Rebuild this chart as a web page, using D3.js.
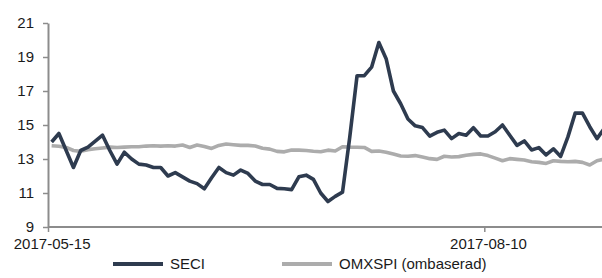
<!DOCTYPE html>
<html>
<head>
<meta charset="utf-8">
<script src="https://cdn.jsdelivr.net/npm/d3@7"></script>
<style>
  html, body { margin: 0; padding: 0; background: #fff; }
  svg { display: block; font-family: "Liberation Sans", Arial, sans-serif; }
</style>
</head>
<body>
<div id="chart"></div>
<script>
// Trading days (Swedish calendar), May 15 -> Sep 1 2017
const dates = [
  '2017-05-15','2017-05-16','2017-05-17','2017-05-18','2017-05-19','2017-05-22','2017-05-23','2017-05-24','2017-05-26','2017-05-29','2017-05-30','2017-05-31',
  '2017-06-01','2017-06-02','2017-06-05','2017-06-07','2017-06-08','2017-06-09','2017-06-12','2017-06-13','2017-06-14','2017-06-15','2017-06-16','2017-06-19','2017-06-20','2017-06-21','2017-06-22','2017-06-26','2017-06-27','2017-06-28','2017-06-29','2017-06-30',
  '2017-07-03','2017-07-04','2017-07-05','2017-07-06','2017-07-07','2017-07-10','2017-07-11','2017-07-12','2017-07-13','2017-07-14','2017-07-17','2017-07-18','2017-07-19','2017-07-20','2017-07-21','2017-07-24','2017-07-25','2017-07-26','2017-07-27','2017-07-28','2017-07-31',
  '2017-08-01','2017-08-02','2017-08-03','2017-08-04','2017-08-07','2017-08-08','2017-08-09','2017-08-10','2017-08-11','2017-08-14','2017-08-15','2017-08-16','2017-08-17','2017-08-18','2017-08-21','2017-08-22','2017-08-23','2017-08-24','2017-08-25','2017-08-28','2017-08-29','2017-08-30','2017-08-31',
  '2017-09-01'
];

const seci = [
  14.0, 14.5, 13.5, 12.5, 13.5, 13.7, 14.05, 14.4, 13.5, 12.7,
  13.4, 13.0, 12.7, 12.65, 12.5, 12.5, 12.0, 12.2, 11.95, 11.7,
  11.55, 11.25, 11.9, 12.5, 12.2, 12.05, 12.35, 12.15, 11.7, 11.5,
  11.5, 11.27, 11.25, 11.2, 11.95, 12.05, 11.8, 11.0, 10.5, 10.8,
  11.05, 14.3, 17.9, 17.9, 18.4, 19.85, 18.9, 17.0, 16.25, 15.35,
  14.95, 14.85, 14.35, 14.57, 14.7, 14.2, 14.5, 14.4, 14.84, 14.35,
  14.35, 14.6, 15.0, 14.4, 13.8, 14.06, 13.53, 13.67, 13.24, 13.6,
  13.15, 14.3, 15.7, 15.7, 14.9, 14.2, 14.8
];

const omxspi = [
  13.78, 13.75, 13.68, 13.5, 13.45, 13.55, 13.6, 13.65, 13.7, 13.68,
  13.7, 13.72, 13.72, 13.76, 13.78, 13.76, 13.78, 13.76, 13.82, 13.68,
  13.82, 13.74, 13.62, 13.8, 13.88, 13.84, 13.8, 13.8, 13.76, 13.63,
  13.58, 13.45, 13.42, 13.53, 13.52, 13.5, 13.46, 13.43, 13.52, 13.47,
  13.72, 13.7, 13.69, 13.68, 13.45, 13.47, 13.4, 13.3, 13.18, 13.16,
  13.2, 13.12, 13.02, 12.98, 13.16, 13.12, 13.14, 13.22, 13.27, 13.3,
  13.2, 13.05, 12.9, 13.02, 12.98, 12.94, 12.84, 12.8, 12.74, 12.9,
  12.86, 12.84, 12.86, 12.8, 12.65, 12.9, 13.0
];

const yTicks = [9, 11, 13, 15, 17, 19, 21];
const xTickLabels = ['2017-05-15', '2017-08-10'];

const seriesNames = ['SECI', 'OMXSPI (ombaserad)'];
const seriesColors = ['#2e3b4f', '#acacac'];

const width = 602;
const height = 278;
const margin = { top: 23, left: 48, bottom: 51 };
const axisColor = '#8c8c8c';
const textColor = '#1a1a1a';

const svg = d3.select('#chart')
  .append('svg')
  .attr('width', width)
  .attr('height', height);

// category axis: index boundaries, points sit mid-category
const x = d3.scaleLinear()
  .domain([0, 60])
  .range([margin.left, 484.3]);

const y = d3.scaleLinear()
  .domain([9, 21])
  .range([height - margin.bottom, margin.top]);

const step = x(1) - x(0);

// Y axis
const yAxis = svg.append('g')
  .attr('transform', `translate(${margin.left},0)`)
  .call(d3.axisLeft(y).tickValues(yTicks).tickSize(5).tickPadding(9).tickSizeOuter(0));

yAxis.select('.domain').attr('stroke', axisColor).attr('stroke-width', 2);
yAxis.selectAll('.tick line').attr('stroke', axisColor).attr('stroke-width', 1.5);
yAxis.selectAll('.tick text')
  .attr('fill', textColor)
  .attr('font-size', '15px')
  .attr('font-family', '"Liberation Sans", Arial, sans-serif');

// X axis
const xTickIdx = xTickLabels.map(d => dates.indexOf(d));
const xAxis = svg.append('g')
  .attr('transform', `translate(0,${y(9)})`)
  .call(d3.axisBottom(x)
    .tickValues(xTickIdx)
    .tickFormat(i => dates[i])
    .tickSize(5)
    .tickPadding(6)
    .tickSizeOuter(0));

xAxis.select('.domain')
  .attr('stroke', axisColor)
  .attr('stroke-width', 2)
  .attr('d', `M${margin.left},0H${width + 10}`);
xAxis.selectAll('.tick line').attr('stroke', axisColor).attr('stroke-width', 1.5);
xAxis.selectAll('.tick text')
  .attr('x', step / 2)
  .attr('fill', textColor)
  .attr('font-size', '15px')
  .attr('font-family', '"Liberation Sans", Arial, sans-serif');

// Lines
const line = d3.line()
  .x((d, i) => x(i + 0.5))
  .y(d => y(d));

[omxspi, seci].forEach((values, k) => {
  const idx = values === seci ? 0 : 1;
  svg.append('path')
    .datum(values)
    .attr('fill', 'none')
    .attr('stroke', seriesColors[idx])
    .attr('stroke-width', 3.6)
    .attr('stroke-linejoin', 'round')
    .attr('d', line);
});

// Legend
const legendItems = [
  { name: seriesNames[0], color: seriesColors[0], x: 113 },
  { name: seriesNames[1], color: seriesColors[1], x: 282 }
];

const legend = svg.append('g').attr('transform', 'translate(0,264)');
legendItems.forEach(item => {
  legend.append('line')
    .attr('x1', item.x)
    .attr('x2', item.x + 50)
    .attr('y1', 0)
    .attr('y2', 0)
    .attr('stroke', item.color)
    .attr('stroke-width', 4);
  legend.append('text')
    .attr('x', item.x + 57)
    .attr('y', 0)
    .attr('dy', '0.35em')
    .attr('fill', textColor)
    .attr('font-size', '15px')
    .text(item.name);
});
</script>
</body>
</html>
